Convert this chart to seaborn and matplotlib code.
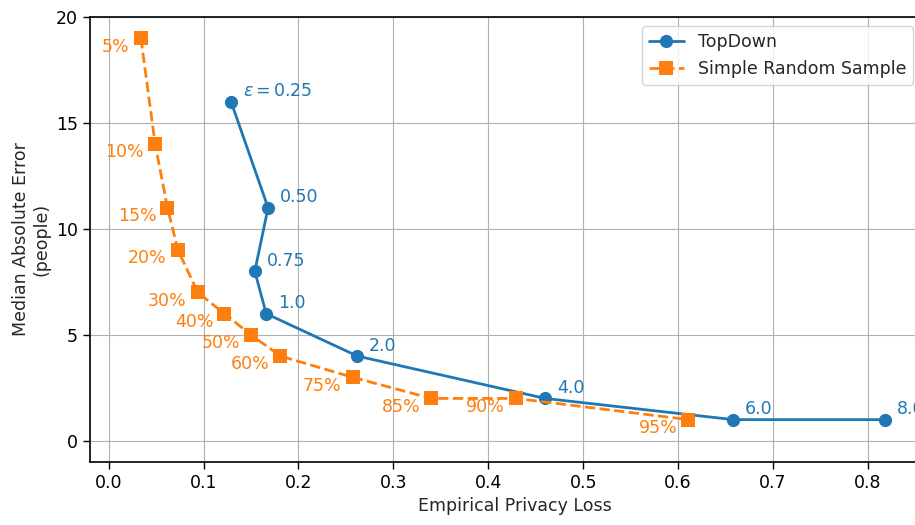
import pandas as pd
import numpy as np
import matplotlib
matplotlib.use("Agg")
import matplotlib.pyplot as plt
import seaborn as sns

# TopDown series (epsilon values)
td_eps = ["$\\epsilon = 0.25$", "0.50", "0.75", "1.0", "2.0", "4.0", "6.0", "8.0"]
td_loss = [0.129, 0.168, 0.154, 0.166, 0.262, 0.460, 0.658, 0.818]
td_err = [16, 11, 8, 6, 4, 2, 1, 1]

# Simple Random Sample series (sample fractions)
srs_pct = ["5%", "10%", "15%", "20%", "30%", "40%", "50%", "60%", "75%", "85%", "90%", "95%"]
srs_loss = [0.034, 0.049, 0.062, 0.073, 0.094, 0.122, 0.150, 0.181, 0.257, 0.340, 0.429, 0.611]
srs_err = [19, 14, 11, 9, 7, 6, 5, 4, 3, 2, 2, 1]

blue = "#1f77b4"
orange = "#ff7f0e"
fs = 12.5

sns.set_theme(style="ticks", rc={"axes.grid": True, "grid.color": "#b0b0b0",
                                 "grid.linewidth": 0.8, "axes.edgecolor": "black",
                                 "xtick.color": "black", "ytick.color": "black"})
plt.rcParams["font.family"] = ["DejaVu Sans"]

df_td = pd.DataFrame({"loss": td_loss, "err": td_err, "lab": td_eps})
df_srs = pd.DataFrame({"loss": srs_loss, "err": srs_err, "lab": srs_pct})

fig = plt.figure(figsize=(9.15, 5.25), dpi=100)
# the right edge of the axes runs past the figure, as in the cropped original
ax = fig.add_axes([0.098, 0.12, 0.93, 0.8476])

sns.lineplot(data=df_td, x="loss", y="err", sort=False, estimator=None, ax=ax,
             color=blue, marker="o", markersize=9.5, markeredgewidth=0,
             linewidth=2, label="TopDown")
sns.lineplot(data=df_srs, x="loss", y="err", sort=False, estimator=None, ax=ax,
             color=orange, marker="s", markersize=9.5, markeredgewidth=0,
             linewidth=2, linestyle="--", label="Simple Random Sample")

for _, r in df_td.iterrows():
    ax.annotate(r["lab"], (r["loss"], r["err"]), xytext=(8.5, 7.5),
                textcoords="offset points", ha="left", va="center",
                color=blue, fontsize=fs)
for _, r in df_srs.iterrows():
    ax.annotate(r["lab"], (r["loss"], r["err"]), xytext=(-8, -6),
                textcoords="offset points", ha="right", va="center",
                color=orange, fontsize=fs)

ax.set_xlim(-0.02, 0.8767)
ax.set_ylim(-1, 20)
ax.set_xticks([0.0, 0.1, 0.2, 0.3, 0.4, 0.5, 0.6, 0.7, 0.8])
ax.set_yticks([0, 5, 10, 15, 20])
ax.tick_params(labelsize=fs, length=5, width=1, direction="out")
ax.set_xlabel("Empirical Privacy Loss", fontsize=fs)
ax.set_ylabel("Median Absolute Error\n(people)", fontsize=fs)
for s in ax.spines.values():
    s.set_linewidth(1.2)

ax.legend(loc="upper right", bbox_to_anchor=(0.998, 0.95),
          bbox_transform=fig.transFigure, borderaxespad=0,
          fontsize=fs, frameon=True, framealpha=0.8, edgecolor="#cccccc")

fig.savefig("out.png", dpi=100)
